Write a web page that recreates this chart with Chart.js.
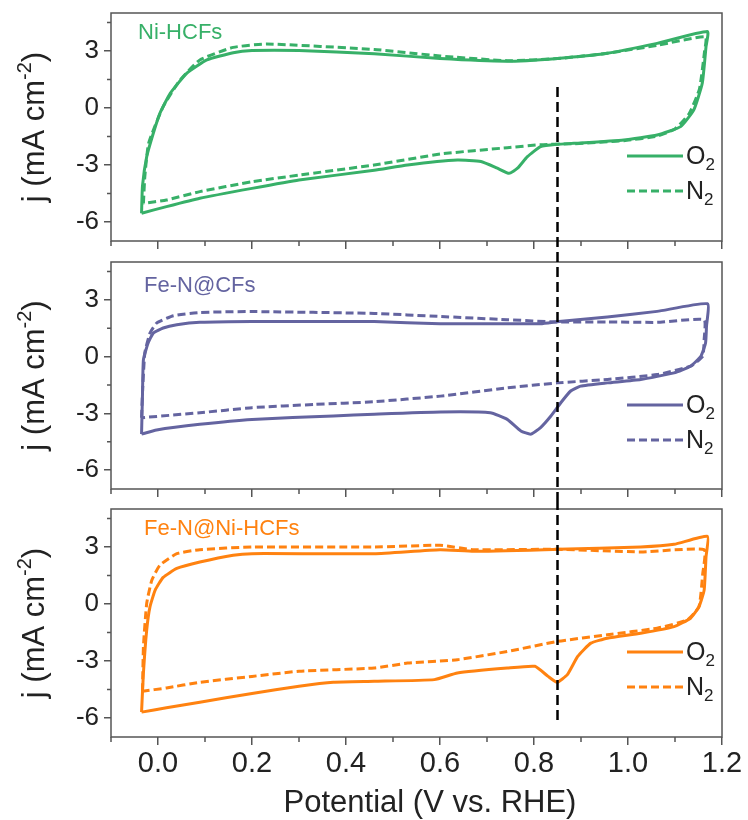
<!DOCTYPE html>
<html>
<head>
<meta charset="utf-8">
<script src="https://cdn.jsdelivr.net/npm/chart.js@4.4.1/dist/chart.umd.min.js"></script>
<style>
  html, body { margin: 0; padding: 0; background: #fff; }
  #wrap { position: relative; width: 748px; height: 820px; }
  #wrap canvas { position: absolute; left: 0; }
</style>
</head>
<body>
<div id="wrap">
  <canvas id="p1" width="748" height="252" style="top:0"></canvas>
  <canvas id="p2" width="748" height="248" style="top:252px"></canvas>
  <canvas id="p3" width="748" height="320" style="top:500px"></canvas>
</div>
<script>
// CV loops: anodic sweep from the low vertex up to ~1.17 V, then back down
const niO2V = [-0.035, -0.033, -0.024, -0.010, 0.004, 0.026, 0.061, 0.104, 0.16, 0.20, 0.30, 0.46, 0.60, 0.74, 0.85, 0.956, 1.062, 1.169,
  1.166, 1.158, 1.14, 1.112, 1.062, 0.991, 0.885, 0.85, 0.814, 0.786, 0.765, 0.747, 0.722, 0.687, 0.637, 0.531, 0.46, 0.30, 0.20, 0.089, 0.018, -0.035];
const niO2J = [-5.54, -4.10, -2.56, -1.33, -0.28, 0.77, 1.82, 2.53, 2.91, 3.02, 3.02, 2.86, 2.60, 2.46, 2.61, 2.88, 3.40, 4.02,
  3.23, 1.30, -0.10, -0.98, -1.42, -1.68, -1.86, -1.91, -2.03, -2.56, -3.17, -3.44, -3.17, -2.82, -2.74, -3.00, -3.28, -3.79, -4.23, -4.75, -5.19, -5.54];
const niN2V = [-0.031, -0.028, -0.020, 0.011, 0.047, 0.089, 0.16, 0.231, 0.46, 0.60, 0.743, 0.85, 0.956, 1.062, 1.165,
  1.163, 1.152, 1.13, 1.10, 1.062, 0.991, 0.885, 0.814, 0.743, 0.601, 0.46, 0.30, 0.20, 0.089, 0.018, -0.031];
const niN2J = [-5.02, -3.60, -1.86, 0.07, 1.47, 2.53, 3.19, 3.37, 3.08, 2.74, 2.49, 2.60, 2.88, 3.30, 3.75,
  3.00, 1.00, -0.30, -1.10, -1.48, -1.72, -1.88, -1.93, -2.09, -2.42, -3.00, -3.53, -3.88, -4.40, -4.84, -5.02];

const fecO2V = [-0.035, -0.033, -0.031, -0.021, -0.010, 0.011, 0.04, 0.089, 0.20, 0.46, 0.60, 0.814, 0.853, 0.956, 1.062, 1.169,
  1.167, 1.165, 1.155, 1.133, 1.098, 1.027, 0.956, 0.899, 0.878, 0.857, 0.836, 0.814, 0.793, 0.772, 0.743, 0.707, 0.601, 0.46, 0.373, 0.20, 0.089, -0.003, -0.035];
const fecO2J = [-4.10, -2.00, -0.16, 0.72, 1.24, 1.51, 1.68, 1.81, 1.86, 1.85, 1.74, 1.74, 1.86, 2.09, 2.39, 2.79,
  1.60, 0.72, 0.02, -0.51, -0.86, -1.21, -1.39, -1.56, -1.82, -2.44, -3.14, -3.75, -4.10, -3.93, -3.32, -2.97, -2.93, -3.05, -3.14, -3.32, -3.58, -3.88, -4.10];
const fecN2V = [-0.035, -0.033, -0.028, -0.017, -0.003, 0.033, 0.089, 0.20, 0.46, 0.60, 0.743, 0.85, 0.956, 1.062, 1.162,
  1.162, 1.159, 1.133, 1.062, 0.956, 0.85, 0.743, 0.601, 0.458, 0.333, 0.20, 0.089, -0.035];
const fecN2J = [-3.23, -1.90, 0.20, 1.24, 1.77, 2.16, 2.33, 2.38, 2.28, 2.12, 1.95, 1.83, 1.83, 1.81, 1.95,
  0.90, 0.02, -0.51, -0.95, -1.21, -1.39, -1.65, -2.09, -2.39, -2.53, -2.70, -2.97, -3.23];

const fnO2V = [-0.035, -0.031, -0.024, -0.017, -0.006, 0.011, 0.04, 0.089, 0.16, 0.20, 0.46, 0.60, 0.672, 0.85, 1.027, 1.098, 1.169,
  1.166, 1.162, 1.151, 1.133, 1.098, 1.027, 0.956, 0.921, 0.893, 0.871, 0.849, 0.83, 0.802, 0.743, 0.637, 0.588, 0.46, 0.373, 0.30, 0.20, 0.089, 0.018, -0.035];
const fnO2J = [-5.69, -3.63, -1.36, -0.14, 0.73, 1.40, 1.87, 2.21, 2.57, 2.65, 2.65, 2.86, 2.77, 2.88, 3.00, 3.14, 3.56,
  2.48, 0.73, -0.14, -0.75, -1.19, -1.54, -1.80, -2.06, -2.76, -3.72, -4.12, -3.81, -3.28, -3.37, -3.63, -3.98, -4.07, -4.12, -4.33, -4.71, -5.17, -5.46, -5.69];
const fnN2V = [-0.033, -0.031, -0.024, -0.013, 0.004, 0.04, 0.089, 0.20, 0.46, 0.60, 0.672, 0.85, 1.027, 1.162,
  1.159, 1.151, 1.126, 1.062, 0.956, 0.85, 0.743, 0.637, 0.531, 0.46, 0.30, 0.20, 0.089, 0.018, -0.033];
const fnN2J = [-4.59, -2.23, 0.04, 1.26, 2.04, 2.65, 2.86, 3.00, 3.00, 3.09, 2.86, 2.88, 2.74, 2.86,
  1.60, -0.14, -0.84, -1.27, -1.62, -1.97, -2.50, -2.93, -3.11, -3.37, -3.54, -3.81, -4.12, -4.42, -4.59];

const gasLabels = ['O2', 'N2'];
const sampleNames = ['Ni-HCFs', 'Fe-N@CFs', 'Fe-N@Ni-HCFs'];

const xTicks = [0, 0.2, 0.4, 0.6, 0.8, 1.0, 1.2];
const xTickLabels = ['0.0', '0.2', '0.4', '0.6', '0.8', '1.0', '1.2'];
const xMinor = [-0.1, 0.1, 0.3, 0.5, 0.7, 0.9, 1.1];
const yTicks = [-6, -3, 0, 3];
const yTickLabels = ['-6', '-3', '0', '3'];
const yMinor = [-4.5, -1.5, 1.5, 4.5];

// dashed guide at the half-wave potential, running through all three panels
const guideV = 0.85;
const guideTop = 1.1;
const guideBottom = -6.2;

const FONT = '"Liberation Sans", Arial, sans-serif';
const INK = '#222222';
const FRAME = '#555555';
Chart.defaults.font.family = FONT;

const panels = [
  { id: 'p1', color: '#37b068', o2: [niO2V, niO2J], n2: [niN2V, niN2J], padTop: 13, axisH: 11, last: false, labelDx: 27, labelDy: 20, guide: 'top' },
  { id: 'p2', color: '#6464a0', o2: [fecO2V, fecO2J], n2: [fecN2V, fecN2J], padTop: 10, axisH: 11, last: false, labelDx: 33, labelDy: 24, guide: 'mid' },
  { id: 'p3', color: '#ff8210', o2: [fnO2V, fnO2J], n2: [fnN2V, fnN2J], padTop: 9, axisH: 83, last: true, labelDx: 33, labelDy: 20, guide: 'bottom' }
];

function toPoints(vs, js) {
  return vs.map((v, i) => ({ x: v, y: js[i] }));
}

function drawSubscripted(ctx, text, x, y, big, small) {
  const head = text.slice(0, -1), tail = text.slice(-1);
  ctx.font = big;
  ctx.fillText(head, x, y);
  const w = ctx.measureText(head).width;
  ctx.font = small;
  ctx.fillText(tail, x + w, y + 8);
}

const decor = {
  id: 'decor',
  afterDatasetsDraw(chart, args, opts) {
    const p = opts.panel;
    const ctx = chart.ctx;
    const a = chart.chartArea;
    const xs = chart.scales.x, ys = chart.scales.y;
    ctx.save();

    // frame around the plot
    ctx.strokeStyle = FRAME;
    ctx.lineWidth = 1.5;
    ctx.setLineDash([]);
    ctx.strokeRect(a.left, a.top, a.right - a.left, a.bottom - a.top);

    // minor ticks
    ctx.beginPath();
    xMinor.forEach(v => {
      const px = xs.getPixelForValue(v);
      ctx.moveTo(px, a.bottom);
      ctx.lineTo(px, a.bottom + 5);
    });
    yMinor.forEach(v => {
      const py = ys.getPixelForValue(v);
      ctx.moveTo(a.left, py);
      ctx.lineTo(a.left - 4, py);
    });
    ctx.stroke();

    // vertical guide line
    const gx = xs.getPixelForValue(guideV);
    const y0 = p.guide === 'top' ? ys.getPixelForValue(guideTop) : 0;
    const y1 = p.guide === 'bottom' ? ys.getPixelForValue(guideBottom) : chart.height;
    ctx.strokeStyle = '#000';
    ctx.lineWidth = 2.5;
    ctx.setLineDash([10, 5]);
    ctx.beginPath();
    ctx.moveTo(gx, y0);
    ctx.lineTo(gx, y1);
    ctx.stroke();

    // legend
    chart.data.datasets.forEach((ds, i) => {
      const ly = a.top + 143 + i * 35;
      ctx.strokeStyle = ds.borderColor;
      ctx.lineWidth = 3;
      ctx.setLineDash(ds.borderDash || []);
      ctx.beginPath();
      ctx.moveTo(627, ly);
      ctx.lineTo(683, ly);
      ctx.stroke();
      ctx.fillStyle = INK;
      ctx.textBaseline = 'middle';
      ctx.textAlign = 'left';
      drawSubscripted(ctx, gasLabels[i], 686, ly + 1, '25px ' + FONT, '17px ' + FONT);
    });

    // sample name
    ctx.fillStyle = p.color;
    ctx.font = '22px ' + FONT;
    ctx.textBaseline = 'middle';
    ctx.fillText(opts.name, a.left + p.labelDx, a.top + p.labelDy);

    // x title under the last panel
    if (p.last) {
      ctx.fillStyle = INK;
      ctx.font = '31px ' + FONT;
      ctx.textAlign = 'center';
      ctx.textBaseline = 'alphabetic';
      ctx.fillText('Potential (V vs. RHE)', 430, chart.height - 8);
      ctx.textAlign = 'left';
    }

    // y title with superscript
    const big = '31px ' + FONT, small = '20px ' + FONT;
    ctx.font = big;
    const w1 = ctx.measureText('j (mA cm').width;
    const w3 = ctx.measureText(')').width;
    ctx.font = small;
    const w2 = ctx.measureText('-2').width;
    ctx.translate(44, (a.top + a.bottom) / 2);
    ctx.rotate(-Math.PI / 2);
    ctx.fillStyle = INK;
    ctx.textBaseline = 'alphabetic';
    let tx = -(w1 + w2 + w3) / 2;
    ctx.font = big;
    ctx.fillText('j (mA cm', tx, 0);
    tx += w1;
    ctx.font = small;
    ctx.fillText('-2', tx, -13);
    tx += w2;
    ctx.font = big;
    ctx.fillText(')', tx, 0);

    ctx.restore();
  }
};

panels.forEach((p, k) => {
  new Chart(document.getElementById(p.id), {
    type: 'scatter',
    data: {
      datasets: [
        { label: gasLabels[0], data: toPoints(p.o2[0], p.o2[1]), borderColor: p.color, borderWidth: 3,
          showLine: true, pointRadius: 0, tension: 0.15 },
        { label: gasLabels[1], data: toPoints(p.n2[0], p.n2[1]), borderColor: p.color, borderWidth: 3, borderDash: [8, 4],
          showLine: true, pointRadius: 0, tension: 0.15 }
      ]
    },
    options: {
      responsive: false,
      animation: false,
      devicePixelRatio: 1,
      layout: { padding: { top: p.padTop, right: 26, left: 0, bottom: 0 } },
      plugins: {
        legend: { display: false },
        tooltip: { enabled: false },
        decor: { panel: p, name: sampleNames[k] }
      },
      scales: {
        x: {
          type: 'linear',
          min: -0.1,
          max: 1.2,
          afterBuildTicks: s => { s.ticks = xTicks.map(v => ({ value: v })); },
          afterFit: s => { s.height = p.axisH; s.paddingLeft = 0; s.paddingRight = 0; },
          border: { display: false },
          grid: { drawOnChartArea: false, drawTicks: true, tickLength: 8, color: FRAME, lineWidth: 1.5 },
          ticks: {
            display: p.last,
            padding: 2,
            color: INK,
            font: { size: 29 },
            maxRotation: 0,
            callback: (v, i) => xTickLabels[i]
          }
        },
        y: {
          type: 'linear',
          min: -7,
          max: 5,
          afterBuildTicks: s => { s.ticks = yTicks.map(v => ({ value: v })); },
          afterFit: s => { s.width = 111; s.paddingTop = 0; s.paddingBottom = 0; },
          border: { display: false },
          grid: { drawOnChartArea: false, drawTicks: true, tickLength: 7, color: FRAME, lineWidth: 1.5 },
          ticks: {
            padding: 5,
            color: INK,
            font: { size: 26 },
            callback: (v, i) => yTickLabels[i]
          }
        }
      }
    },
    plugins: [decor]
  });
});
</script>
</body>
</html>
